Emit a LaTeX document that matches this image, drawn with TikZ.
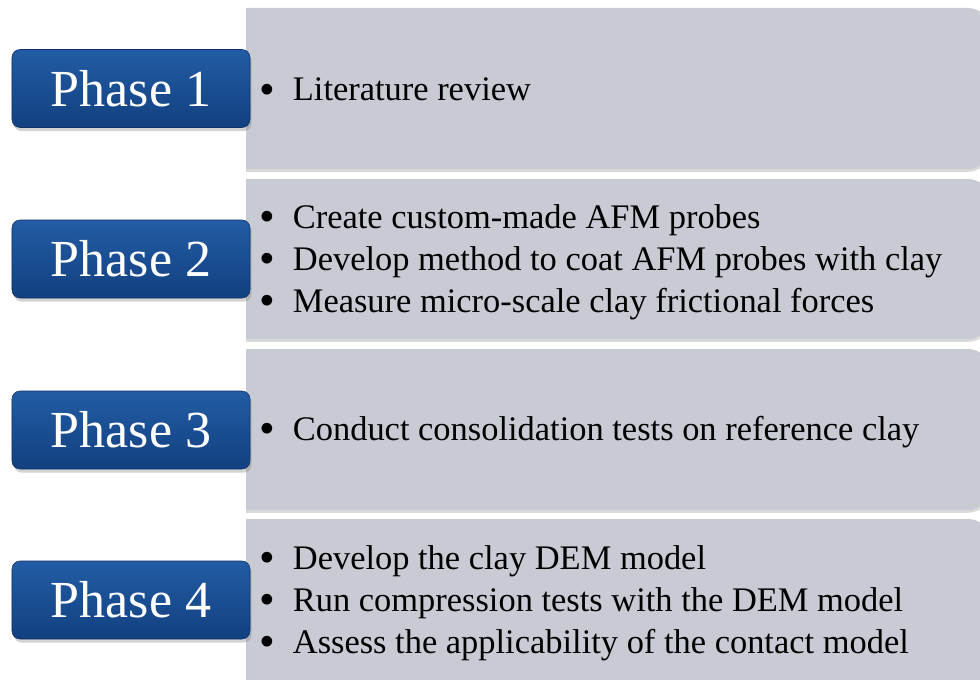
\documentclass[tikz,border=0pt]{standalone}
\usepackage{fontspec}
\usepackage{graphicx}
\setmainfont{Liberation Serif}
\usetikzlibrary{shadows}
\definecolor{panelgray}{RGB}{200,203,211}
\definecolor{phasetop}{RGB}{34,92,164}
\definecolor{phasebot}{RGB}{18,64,128}
\definecolor{phaseline}{RGB}{16,50,102}
\tikzstyle{phase} = [rectangle, rounded corners=2mm, minimum width=59.5mm, minimum height=19.5mm,
  top color=phasetop, bottom color=phasebot, draw=phaseline, line width=0.4pt, text=white,
  font=\fontsize{37}{40}\selectfont, drop shadow={shadow xshift=0.4mm, shadow yshift=-0.9mm, opacity=0.35}]
\tikzstyle{tasks} = [anchor=west, inner sep=0pt, align=left, text=black,
  font=\fontsize{24.5}{29.8}\selectfont]
\tikzstyle{panel} = [fill=panelgray, drop shadow={shadow xshift=0mm, shadow yshift=-0.7mm, opacity=0.3}]
\newcommand{\pitem}{\makebox[8.4mm][l]{\smash{\raisebox{-0.1em}{\scalebox{1.3}{\textbullet}}}}}

\begin{document}
\begin{tikzpicture}[x=0.25mm, y=-0.25mm]
    \useasboundingbox (0,0) rectangle (980,679);
    \clip (0,0) rectangle (980,679);
    % grey panels, square on the left, round on the right
    \foreach \top/\bot in {8/169, 179/339, 349/510, 519/700} {
        \path[panel] (246,\bot) -- (246,\top) [rounded corners=5.5mm] -- (990,\top) -- (990,\bot) [sharp corners] -- cycle;
    }
    \node (p1) [phase] at (131,88.5) {Phase 1};
    \node (p2) [phase] at (131,259) {Phase 2};
    \node (p3) [phase] at (131,430) {Phase 3};
    \node (p4) [phase] at (131,600) {Phase 4};
    \node (t1) [tasks] at (259,89.5) {\pitem Literature review};
    \node (t2) [tasks] at (259,262) {\pitem Create custom-made AFM probes\\
        \pitem Develop method to coat AFM probes with clay\\
        \pitem Measure micro-scale clay frictional forces};
    \node (t3) [tasks] at (259,432) {\pitem Conduct consolidation tests on reference clay};
    \node (t4) [tasks] at (259,603) {\pitem Develop the clay DEM model\\
        \pitem Run compression tests with the DEM model\\
        \pitem Assess the applicability of the contact model};
\end{tikzpicture}
\end{document}
